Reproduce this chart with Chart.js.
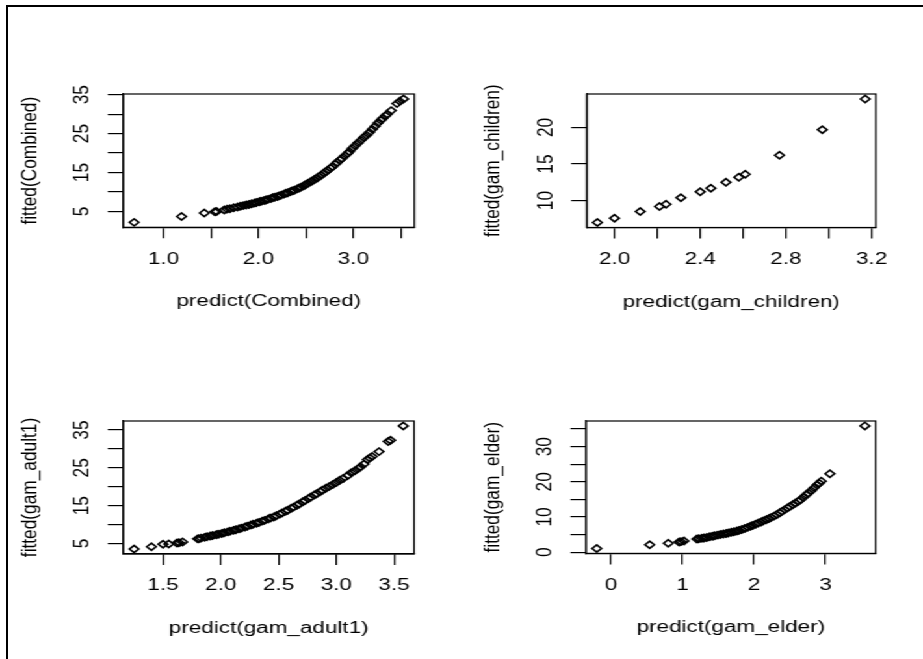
<!DOCTYPE html>
<html>
<head>
<meta charset="utf-8">
<script src="https://cdn.jsdelivr.net/npm/chart.js@4.4.0/dist/chart.umd.min.js"></script>
<style>
  html, body { margin: 0; padding: 0; background: #fff; overflow: hidden; }
  #frame { position: absolute; left: 6px; top: 5px; width: 940px; height: 680px;
           border-top: 2px solid #000; border-left: 2px solid #000; }
  /* the source image is stretched sideways, so the whole figure is too */
  #stage { position: absolute; left: 0; top: 0; width: 710px; height: 659px;
           transform: scaleX(1.3); transform-origin: 0 0; }
  #stage canvas { position: absolute; }
</style>
</head>
<body>
<div id="frame"></div>
<div id="stage"></div>
<script>
// --- data ---
const combinedX = [0.69, 1.19, 1.43, 1.54, 1.56, 1.64, 1.67, 1.70, 1.74, 1.78, 1.81, 1.84, 1.87, 1.90, 1.93,
  1.96, 1.98, 2.01, 2.03, 2.06, 2.08, 2.10, 2.13, 2.15, 2.17, 2.20, 2.22, 2.24, 2.27, 2.29, 2.31, 2.34, 2.36,
  2.38, 2.41, 2.43, 2.45, 2.48, 2.50, 2.52, 2.55, 2.57, 2.59, 2.62, 2.64, 2.66, 2.69, 2.71, 2.73, 2.76, 2.78,
  2.81, 2.83, 2.86, 2.88, 2.91, 2.94, 2.96, 2.99, 3.02, 3.05, 3.08, 3.11, 3.14, 3.17, 3.20, 3.23, 3.26, 3.29,
  3.31, 3.34, 3.36, 3.40, 3.46, 3.49, 3.53];
const combinedY = [2.2, 3.7, 4.6, 4.9, 5.0, 5.4, 5.6, 5.7, 5.95, 6.15, 6.35, 6.5, 6.65, 6.8, 7.0,
  7.15, 7.3, 7.5, 7.6, 7.8, 7.95, 8.1, 8.3, 8.5, 8.65, 8.85, 9.0, 9.2, 9.45, 9.65, 9.8, 10.1, 10.3,
  10.45, 10.8, 11.0, 11.25, 11.6, 11.9, 12.2, 12.6, 12.9, 13.2, 13.6, 14.0, 14.3, 14.8, 15.2, 15.6, 16.1, 16.5,
  17.1, 17.6, 18.2, 18.6, 19.3, 19.9, 20.4, 21.2, 21.9, 22.6, 23.3, 24.0, 24.6, 25.3, 26.1, 26.9, 27.7, 28.4,
  28.9, 29.6, 30.0, 30.9, 32.7, 33.3, 33.9];

const childrenX = [1.92, 2.00, 2.12, 2.21, 2.24, 2.31, 2.40, 2.45, 2.52, 2.58, 2.61, 2.77, 2.97, 3.17];
const childrenY = [7.0, 7.6, 8.5, 9.2, 9.5, 10.4, 11.2, 11.7, 12.5, 13.2, 13.6, 16.2, 19.7, 23.9];

const adultX = [1.25, 1.40, 1.50, 1.55, 1.62, 1.64, 1.67, 1.80, 1.81, 1.83, 1.86, 1.88, 1.91, 1.93, 1.96,
  1.98, 2.01, 2.03, 2.06, 2.08, 2.11, 2.13, 2.16, 2.18, 2.21, 2.23, 2.26, 2.28, 2.31, 2.33, 2.36, 2.38, 2.41,
  2.43, 2.46, 2.48, 2.51, 2.53, 2.56, 2.58, 2.61, 2.63, 2.66, 2.68, 2.71, 2.73, 2.76, 2.78, 2.81, 2.83, 2.86,
  2.88, 2.91, 2.94, 2.97, 3.00, 3.03, 3.06, 3.10, 3.13, 3.16, 3.19, 3.21, 3.24, 3.27, 3.29, 3.31, 3.37, 3.45,
  3.47, 3.58];
const adultY = [3.5, 4.1, 4.8, 4.85, 5.1, 5.2, 5.4, 6.2, 6.25, 6.4, 6.6, 6.75, 6.95, 7.1, 7.3,
  7.45, 7.65, 7.8, 8.05, 8.2, 8.45, 8.6, 8.9, 9.05, 9.35, 9.55, 9.85, 10.05, 10.35, 10.55, 10.9, 11.1, 11.45,
  11.7, 12.0, 12.3, 12.75, 13.05, 13.5, 13.8, 14.3, 14.6, 15.1, 15.45, 16.0, 16.35, 16.9, 17.3, 17.8, 18.15, 18.7,
  19.1, 19.6, 20.1, 20.6, 21.1, 21.7, 22.2, 23.0, 23.7, 24.2, 24.8, 25.3, 26.0, 27.2, 27.6, 28.0, 29.3, 32.0,
  32.3, 36.1];

const elderX = [-0.20, 0.54, 0.80, 0.95, 0.98, 1.02, 1.20, 1.23, 1.27, 1.30, 1.34, 1.38, 1.42, 1.45, 1.49,
  1.53, 1.57, 1.61, 1.64, 1.68, 1.72, 1.76, 1.79, 1.83, 1.87, 1.91, 1.95, 1.98, 2.02, 2.06, 2.10, 2.13, 2.17,
  2.21, 2.24, 2.28, 2.32, 2.36, 2.39, 2.43, 2.47, 2.50, 2.54, 2.58, 2.62, 2.65, 2.69, 2.73, 2.76, 2.80, 2.84,
  2.88, 2.91, 2.94, 3.06, 3.55];
const elderY = [1.05, 2.1, 2.55, 2.9, 3.0, 3.2, 3.75, 3.85, 3.95, 4.05, 4.2, 4.4, 4.55, 4.7, 4.85,
  5.0, 5.15, 5.3, 5.45, 5.65, 5.8, 6.0, 6.2, 6.45, 6.75, 7.05, 7.35, 7.6, 7.95, 8.3, 8.6, 8.9, 9.25,
  9.6, 9.9, 10.25, 10.7, 11.2, 11.6, 12.1, 12.6, 13.0, 13.5, 14.0, 14.5, 14.9, 15.6, 16.3, 16.8, 17.5, 18.3,
  19.1, 19.6, 20.2, 22.3, 35.9];

// tick positions and the labels R kept (blank = label dropped)
const combinedXTicks = [1.0, 1.5, 2.0, 2.5, 3.0, 3.5];
const combinedXLabels = ['1.0', '', '2.0', '', '3.0', ''];
const combinedYTicks = [5, 10, 15, 20, 25, 30, 35];
const combinedYLabels = ['5', '', '15', '', '25', '', '35'];

const childrenXTicks = [2.0, 2.2, 2.4, 2.6, 2.8, 3.0, 3.2];
const childrenXLabels = ['2.0', '', '2.4', '', '2.8', '', '3.2'];
const childrenYTicks = [10, 15, 20];
const childrenYLabels = ['10', '15', '20'];

const adultXTicks = [1.5, 2.0, 2.5, 3.0, 3.5];
const adultXLabels = ['1.5', '2.0', '2.5', '3.0', '3.5'];
const adultYTicks = [5, 10, 15, 20, 25, 30, 35];
const adultYLabels = ['5', '', '15', '', '25', '', '35'];

const elderXTicks = [0, 1, 2, 3];
const elderXLabels = ['0', '1', '2', '3'];
const elderYTicks = [0, 5, 10, 15, 20, 25, 30, 35];
const elderYLabels = ['0', '', '10', '', '20', '', '30', ''];

// --- look ---
const FONT = { family: "'Liberation Sans', Arial, sans-serif", size: 17.3 };
const LINE_H = FONT.size * 1.2;
const stage = document.getElementById('stage');

// R pads the data range by 4% each side
function padRange(vals) {
  const lo = Math.min(...vals), hi = Math.max(...vals);
  const d = (hi - lo) * 0.04;
  return [lo - d, hi + d];
}

// box + rotated y tick labels, drawn from the y scale
function rFrame(yTicks, yLabels) {
  return {
    id: 'rFrame',
    afterDraw(chart) {
      const { ctx, chartArea: a } = chart;
      const y = chart.scales.y;
      ctx.save();
      ctx.strokeStyle = '#000';
      ctx.lineWidth = 1.2;
      ctx.strokeRect(a.left, a.top, a.right - a.left, a.bottom - a.top);
      ctx.fillStyle = '#000';
      ctx.font = FONT.size + 'px ' + FONT.family;
      ctx.textAlign = 'center';
      ctx.textBaseline = 'alphabetic';
      yLabels.forEach((lab, i) => {
        if (!lab) return;
        ctx.save();
        ctx.translate(a.left - 26.8, y.getPixelForValue(yTicks[i]));
        ctx.rotate(-Math.PI / 2);
        ctx.fillText(lab, 0, 0);
        ctx.restore();
      });
      ctx.restore();
    }
  };
}

function makePanel(p) {
  const [L, T, R, B] = p.box;
  const left = Math.floor(L - 82), top = Math.floor(T - 10);
  const width = Math.ceil(R + 25) - left, height = Math.ceil(B + 85) - top;
  const yW = L - left, padTop = T - top, padRight = left + width - R, xH = top + height - B;

  const canvas = document.createElement('canvas');
  canvas.width = width;
  canvas.height = height;
  canvas.style.left = left + 'px';
  canvas.style.top = top + 'px';
  canvas.style.width = width + 'px';
  canvas.style.height = height + 'px';
  stage.appendChild(canvas);

  const [xmin, xmax] = padRange(p.x);
  const [ymin, ymax] = padRange(p.y);

  return new Chart(canvas, {
    type: 'scatter',
    data: {
      datasets: [{
        data: p.x.map((v, i) => ({ x: v, y: p.y[i] })),
        pointStyle: 'rectRot',
        pointRadius: 3.6,
        pointBorderWidth: 1.6,
        pointBorderColor: '#000',
        pointBackgroundColor: 'rgba(0,0,0,0)'
      }]
    },
    options: {
      responsive: false,
      animation: false,
      devicePixelRatio: 1,
      layout: { padding: { left: 0, top: padTop, right: padRight, bottom: 0 } },
      plugins: { legend: { display: false }, tooltip: { enabled: false } },
      scales: {
        x: {
          type: 'linear', position: 'bottom', min: xmin, max: xmax, bounds: 'data',
          afterBuildTicks: s => { s.ticks = p.xTicks.map(v => ({ value: v })); },
          afterFit: s => { s.height = xH; },
          grid: { drawOnChartArea: false, drawTicks: true, tickLength: 11, color: '#000', lineWidth: 1.2 },
          border: { display: true, color: '#000', width: 1.2 },
          ticks: {
            autoSkip: false, maxRotation: 0, minRotation: 0, padding: 10.1,
            color: '#000', font: FONT,
            callback: (v, i) => p.xLabels[i]
          },
          title: {
            display: true, text: p.xTitle, color: '#000', font: FONT,
            padding: { top: 0, bottom: xH - 74.3 - LINE_H / 2 }
          }
        },
        y: {
          type: 'linear', position: 'left', min: ymin, max: ymax, bounds: 'data',
          afterBuildTicks: s => { s.ticks = p.yTicks.map(v => ({ value: v })); },
          afterFit: s => { s.width = yW; },
          grid: { drawOnChartArea: false, drawTicks: true, tickLength: 12, color: '#000', lineWidth: 1.2 },
          border: { display: true, color: '#000', width: 1.2 },
          ticks: { display: false },
          title: {
            display: true, text: p.yTitle, color: '#000', font: FONT,
            padding: { top: yW - 72 - LINE_H / 2, bottom: 0 }
          }
        }
      }
    },
    plugins: [rFrame(p.yTicks, p.yLabels)]
  });
}

// plot-area edges [left, top, right, bottom] in unstretched px
makePanel({ box: [94.85, 94, 318.7, 227.3], x: combinedX, y: combinedY,
  xTicks: combinedXTicks, xLabels: combinedXLabels, yTicks: combinedYTicks, yLabels: combinedYLabels,
  xTitle: 'predict(Combined)', yTitle: 'fitted(Combined)' });
makePanel({ box: [451.3, 94, 673.8, 227.5], x: childrenX, y: childrenY,
  xTicks: childrenXTicks, xLabels: childrenXLabels, yTicks: childrenYTicks, yLabels: childrenYLabels,
  xTitle: 'predict(gam_children)', yTitle: 'fitted(gam_children)' });
makePanel({ box: [94.85, 421, 318.5, 554], x: adultX, y: adultY,
  xTicks: adultXTicks, xLabels: adultXLabels, yTicks: adultYTicks, yLabels: adultYLabels,
  xTitle: 'predict(gam_adult1)', yTitle: 'fitted(gam_adult1)' });
makePanel({ box: [450.8, 421, 673.6, 553.4], x: elderX, y: elderY,
  xTicks: elderXTicks, xLabels: elderXLabels, yTicks: elderYTicks, yLabels: elderYLabels,
  xTitle: 'predict(gam_elder)', yTitle: 'fitted(gam_elder)' });
</script>
</body>
</html>
